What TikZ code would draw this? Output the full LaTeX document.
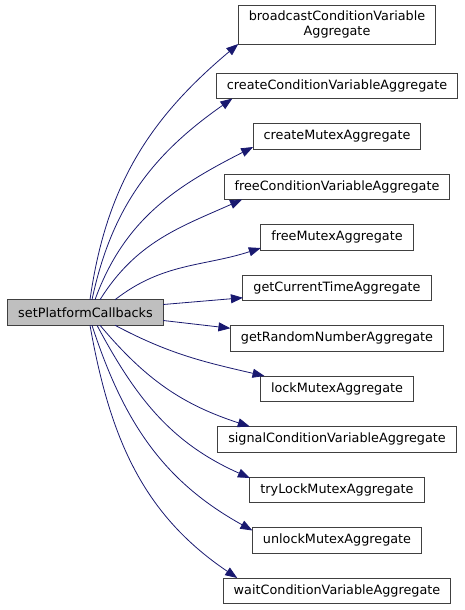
\documentclass[tikz,border=0pt]{standalone}
\usepackage{fontspec}
\setmainfont{DejaVu Sans}
\usepackage{tikz}
\usetikzlibrary{arrows.meta,positioning}

\definecolor{edgeblue}{HTML}{191970}
\definecolor{boxline}{HTML}{404040}
\definecolor{mainfill}{HTML}{BFBFBF}

\begin{document}
\begin{tikzpicture}[
    x=1pt, y=1pt,
    func/.style={draw=boxline, line width=0.9pt, fill=white, align=center, inner xsep=10.5pt, inner ysep=2pt, outer sep=0pt, minimum height=25.5pt, font=\fontsize{12.8}{15}\selectfont},
    current/.style={func, fill=mainfill},
    call/.style={-{Triangle[length=12pt, width=9pt, fill=edgeblue]}, draw=edgeblue, line width=0.8pt}
]
\useasboundingbox (0,0) rectangle (465,-610);
\node[current] (caller) at (85.5,-312.5) {setPlatformCallbacks};
\node[func, minimum height=39pt] (bcast) at (337,-24.5) {broadcastConditionVariable\\Aggregate};
\node[func, below=29pt of bcast] (ccond) {createConditionVariableAggregate};
\node[func, below=25pt of ccond] (cmutex) {createMutexAggregate};
\node[func, below=25pt of cmutex] (fcond) {freeConditionVariableAggregate};
\node[func, below=25pt of fcond] (fmutex) {freeMutexAggregate};
\node[func, below=25pt of fmutex] (gtime) {getCurrentTimeAggregate};
\node[func, below=25pt of gtime] (grand) {getRandomNumberAggregate};
\node[func, below=25pt of grand] (lmutex) {lockMutexAggregate};
\node[func, below=25pt of lmutex] (scond) {signalConditionVariableAggregate};
\node[func, below=25pt of scond] (tlmutex) {tryLockMutexAggregate};
\node[func, below=25pt of tlmutex] (umutex) {unlockMutexAggregate};
\node[func, below=25pt of umutex] (wcond) {waitConditionVariableAggregate};
% calls going up
\draw[call] ([xshift=4.5pt]caller.north) to[out=82, in=220] (bcast.south west);
\draw[call] ([xshift=6.5pt]caller.north) to[out=78, in=215] ([xshift=16pt]ccond.south west);
\draw[call] ([xshift=9.5pt]caller.north) to[out=70, in=207] ([yshift=2pt]cmutex.south west);
\draw[call] ([xshift=14.5pt]caller.north) to[out=58, in=204] ([xshift=18pt]fcond.south west);
\draw[call] ([xshift=29.5pt]caller.north) to[out=38, in=198] ([yshift=2pt]fmutex.south west);
% straight ones
\draw[call] ([yshift=8pt]caller.east) -- ([yshift=-10pt]gtime.west);
\draw[call] ([yshift=-8pt]caller.east) -- ([yshift=10pt]grand.west);
% calls going down
\draw[call] ([xshift=29.5pt]caller.south) to[out=-28, in=167] ([xshift=4pt]lmutex.north west);
\draw[call] ([xshift=14.5pt]caller.south) to[out=-50, in=162] ([xshift=32pt]scond.north west);
\draw[call] ([xshift=11.5pt]caller.south) to[out=-62, in=156] ([yshift=-1pt]tlmutex.north west);
\draw[call] ([xshift=6.5pt]caller.south) to[out=-72, in=151] ([yshift=-3pt]umutex.north west);
\draw[call] ([xshift=4.5pt]caller.south) to[out=-80, in=146] ([xshift=14pt]wcond.north west);
\end{tikzpicture}
\end{document}
